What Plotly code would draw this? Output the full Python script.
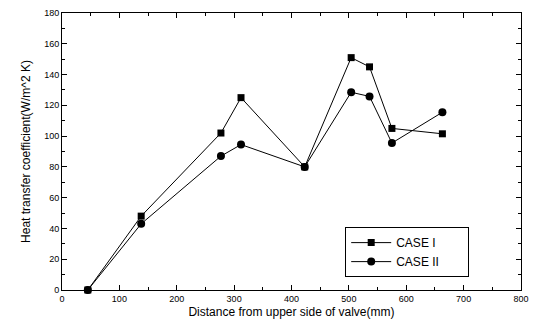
import plotly.graph_objects as go

distance = [45, 138, 277, 312, 423, 504, 536, 575, 663]
case1 = [0, 48, 102, 125, 80, 151, 145, 105, 101.5]
case2 = [0, 43, 87, 94.5, 80, 128.5, 125.8, 95.5, 115.5]
series_names = ["CASE I", "CASE II"]

pad = "\u00a0" * 7  # widen legend box like the reference

fig = go.Figure()
fig.add_trace(go.Scatter(x=distance, y=case1, name=series_names[0] + pad, mode="lines+markers",
                         line=dict(color="black", width=1),
                         marker=dict(symbol="square", size=7, color="black"), cliponaxis=False))
fig.add_trace(go.Scatter(x=distance, y=case2, name=series_names[1] + pad, mode="lines+markers",
                         line=dict(color="black", width=1),
                         marker=dict(symbol="circle", size=8, color="black"), cliponaxis=False))

axis_common = dict(showline=True, linecolor="black", linewidth=1, mirror="allticks",
                   ticks="inside", ticklen=5, tickcolor="black", showgrid=False, zeroline=False,
                   automargin=False, ticklabeloverflow="allow",
                   tickfont=dict(family="Arial, Liberation Sans", size=9, color="black"),
                   minor=dict(ticks="inside", ticklen=3, tickcolor="black"))

fig.update_xaxes(range=[0, 800], dtick=100, minor_dtick=50,
                 title=dict(text="Distance from upper side of valve(mm)",
                            font=dict(family="Arial, Liberation Sans", size=12, color="black"), standoff=4),
                 **axis_common)
fig.update_yaxes(range=[0, 180], dtick=20, minor_dtick=10,
                 title=dict(text="Heat transfer coefficient(W/m^2 K)",
                            font=dict(family="Arial, Liberation Sans", size=12, color="black"), standoff=10),
                 **axis_common)

fig.update_layout(width=535, height=326, margin=dict(l=62, r=14, t=13, b=36),
                  plot_bgcolor="white", paper_bgcolor="white",
                  legend=dict(x=0.617, y=0.227, xanchor="left", yanchor="top",
                              bordercolor="black", borderwidth=1, bgcolor="white",
                              font=dict(family="Arial, Liberation Sans", size=12, color="black"),
                              itemwidth=40, tracegroupgap=2),
                  showlegend=True)

fig.write_html("out.html", config={"displayModeBar": False},
               post_script="document.body.style.margin='0';")
